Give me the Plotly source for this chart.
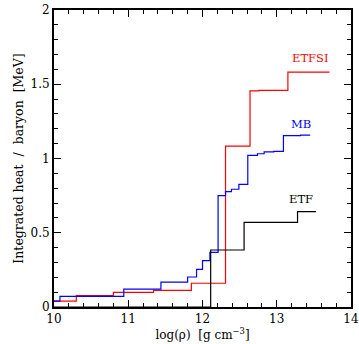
import plotly.graph_objects as go

# Integrated crustal heating per accreted baryon versus density, three mass models
etfsi_logrho = [10.0, 10.30, 10.80, 11.34, 11.85, 12.31, 12.64, 12.76, 13.15, 13.71]
etfsi_heat = [0.04, 0.076, 0.099, 0.112, 0.160, 1.084, 1.455, 1.459, 1.582, 1.582]

mb_logrho = [10.0, 10.08, 10.94, 11.44, 11.80, 11.92, 12.00, 12.10, 12.21, 12.31,
             12.39, 12.49, 12.61, 12.74, 12.83, 12.96, 13.09, 13.32, 13.45]
mb_heat = [0.04, 0.072, 0.121, 0.168, 0.202, 0.254, 0.312, 0.368, 0.750, 0.777,
           0.793, 0.826, 1.021, 1.032, 1.044, 1.048, 1.154, 1.158, 1.158]

etf_logrho = [10.0, 12.11, 12.56, 13.28, 13.53]
etf_heat = [0.0, 0.384, 0.570, 0.642, 0.642]

labels = ["ETFSI", "MB", "ETF"]
label_x = [13.45, 13.33, 13.32]
label_y = [1.68, 1.23, 0.725]
colors = ["#ff0000", "#0000ff", "#000000"]

FONT = "DejaVu Serif"

fig = go.Figure()
for xs, ys, c, name in [(etfsi_logrho, etfsi_heat, colors[0], labels[0]),
                        (mb_logrho, mb_heat, colors[1], labels[1]),
                        (etf_logrho, etf_heat, colors[2], labels[2])]:
    fig.add_trace(go.Scatter(x=xs, y=ys, mode="lines", line_shape="hv",
                             line=dict(color=c, width=1.2), name=name,
                             showlegend=False))

for t, x, y, c in zip(labels, label_x, label_y, colors):
    fig.add_annotation(x=x, y=y, text=t, showarrow=False,
                       font=dict(family=FONT, size=11.5, color=c))

axis_common = dict(
    showgrid=False, zeroline=False, showline=True, linecolor="black",
    linewidth=2, mirror="allticks", ticks="inside", ticklen=7, tickwidth=1,
    tickcolor="black", automargin=False,
    tickfont=dict(family=FONT, size=12, color="black"),
)

fig.update_xaxes(range=[10, 14], dtick=1, tick0=10,
                 minor=dict(dtick=0.2, ticks="inside", ticklen=4,
                            tickcolor="black", showgrid=False),
                 title=dict(text="log(ρ)  [g cm<sup>−3</sup>]", standoff=4,
                            font=dict(family=FONT, size=12, color="black")),
                 **axis_common)
fig.update_yaxes(range=[0, 2], tickvals=[0, 0.5, 1, 1.5, 2],
                 ticktext=["0", "0.5", "1", "1.5", "2"],
                 minor=dict(dtick=0.1, ticks="inside", ticklen=4,
                            tickcolor="black", showgrid=False),
                 title=dict(text="Integrated heat  /  baryon  [MeV]", standoff=4,
                            font=dict(family=FONT, size=12.5, color="black")),
                 **axis_common)

fig.update_layout(width=359, height=344,
                  margin=dict(l=54, r=8, t=10, b=37),
                  paper_bgcolor="white", plot_bgcolor="white")

fig.write_html("out.html")
